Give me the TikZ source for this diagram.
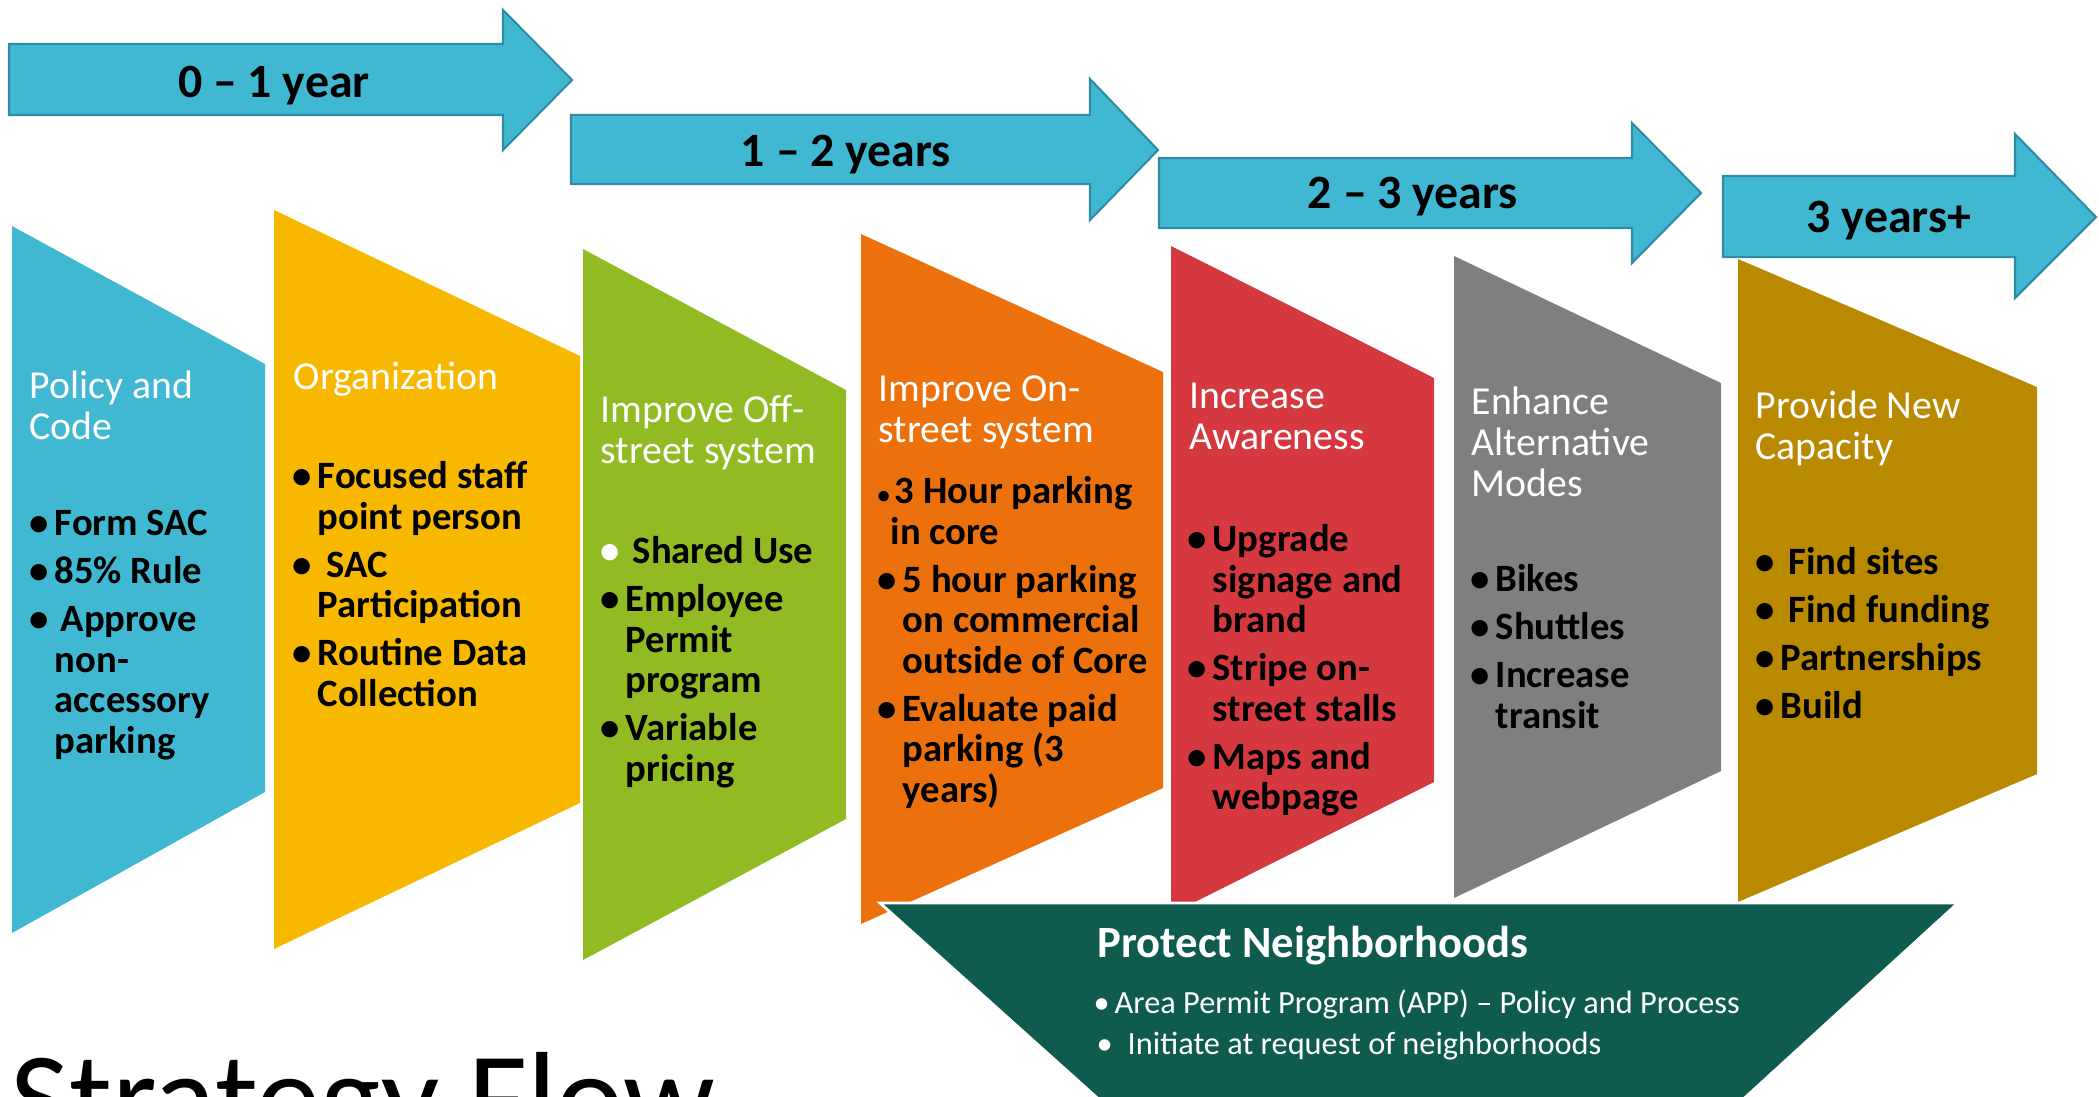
\documentclass[tikz,border=0pt]{standalone}
\usepackage{fontspec}
\setmainfont{Carlito}
\definecolor{skyblue}{HTML}{41B8D2}
\definecolor{skyline}{HTML}{2E8CA3}
\definecolor{sunyellow}{HTML}{F9B800}
\definecolor{leafgreen}{HTML}{91BB23}
\definecolor{carrot}{HTML}{EC710C}
\definecolor{brick}{HTML}{D6383F}
\definecolor{stone}{HTML}{7F7F7F}
\definecolor{mustard}{HTML}{B98A00}
\definecolor{pine}{HTML}{0F5B50}
\newcommand{\bul}{\makebox[0.25cm][l]{\textbullet}}
\newcommand{\ind}{\hspace*{0.25cm}}

\begin{document}
\begin{tikzpicture}[x=0.01cm,y=-0.01cm,
  yeararrow/.style={fill=skyblue,draw=skyline,line width=0.6pt},
  yearlabel/.style={font=\bfseries\fontsize{13.6}{16}\selectfont,anchor=base,inner sep=0pt},
  firstbase/.style={anchor=north west,inner sep=0pt,align=left,execute at begin node=\strut,yshift=0.7*#1},
  head/.style={text=white,font=\fontsize{11.3}{11.6}\selectfont,firstbase=11.6pt},
  items/.style={font=\bfseries\fontsize{11}{11.55}\selectfont,firstbase=11.55pt}]
   \path[use as bounding box,clip] (0,0) rectangle (2099,1096);
   \draw[yeararrow] (9,44) -- (503,44) -- (503,10) -- (572,80) -- (503,150) -- (503,115) -- (9,115) -- cycle;
   \draw[yeararrow] (571,115) -- (1090,115) -- (1090,79) -- (1158,150) -- (1090,220) -- (1090,184) -- (571,184) -- cycle;
   \draw[yeararrow] (1159,158) -- (1632,158) -- (1632,123) -- (1701,193) -- (1632,263) -- (1632,228) -- (1159,228) -- cycle;
   \draw[yeararrow] (1723,176) -- (2015,176) -- (2015,134) -- (2096,217) -- (2015,298) -- (2015,257) -- (1723,257) -- cycle;
   \node[yearlabel] (yr01) at (274,97) {0 -- 1 year};
   \node[yearlabel] (yr12) at (846,166) {1 -- 2 years};
   \node[yearlabel] (yr23) at (1413,208) {2 -- 3 years};
   \node[yearlabel] (yr3p) at (1889,232) {3 years+};
  %
   \fill[skyblue] (12,226) -- (265,364) -- (265,792) -- (12,933) -- cycle;
   \fill[sunyellow] (274,210) -- (580,356) -- (580,803) -- (274,949) -- cycle;
   \fill[leafgreen] (583,249) -- (846,390) -- (846,819) -- (583,960) -- cycle;
   \fill[carrot] (861,234) -- (1163,372) -- (1163,788) -- (861,924) -- cycle;
   \fill[brick] (1171,246) -- (1434,378) -- (1434,782) -- (1171,914) -- cycle;
   \fill[stone] (1454,256) -- (1721,383) -- (1721,771) -- (1454,898) -- cycle;
   \fill[mustard] (1738,259) -- (2037,387) -- (2037,774) -- (1738,902) -- cycle;
   \draw[fill=pine,draw=white,line width=0.8pt] (880,903) -- (1958,903) -- (1633,1200) -- (1211,1200) -- cycle;
  %
   \node[head] (hPolicy) at (29,399) {Policy and\\Code};
   \node[head] (hOrg) at (293,389) {Organization};
   \node[head] (hOff) at (600,423) {Improve Off-\\street system};
   \node[head] (hOn) at (878,404) {Improve On-\\street system};
   \node[head] (hAware) at (1189,411) {Increase\\Awareness};
   \node[head] (hModes) at (1471,415) {Enhance\\Alternative\\Modes};
   \node[head] (hCap) at (1755,419) {Provide New\\Capacity};
  %
   \node[items] (lPolicy) at (29,538) {\bul Form SAC\\[2.1pt]
      \bul 85\% Rule\\[2.1pt]
      \bul\hspace{0.06cm}Approve\\ \ind non-\\ \ind accessory\\ \ind parking};
   \node[items] (lOrg) at (292,489) {\bul Focused staff\\ \ind point person\\[2.1pt]
      \bul\hspace{0.09cm}SAC\\ \ind Participation\\[2.1pt]
      \bul Routine Data\\ \ind Collection};
   \node[items] (lOff) at (600,564) {\textcolor{white}{\bul}\hspace{0.07cm}Shared Use\\[2.1pt]
      \bul Employee\\ \ind Permit\\ \ind program\\[2.1pt]
      \bul Variable\\ \ind pricing};
   \node[items] (lOn) at (877,504) {\makebox[0.17cm][l]{\fontsize{7}{7}\selectfont\textbullet}3 Hour parking\\ \hspace*{0.13cm}in core\\[2.1pt]
      \bul 5 hour parking\\ \ind on commercial\\ \ind outside of Core\\[2.1pt]
      \bul Evaluate paid\\ \ind parking (3\\ \ind years)};
   \node[items] (lAware) at (1187,552) {\bul Upgrade\\ \ind signage and\\ \ind brand\\[2.1pt]
      \bul Stripe on-\\ \ind street stalls\\[2.1pt]
      \bul Maps and\\ \ind webpage};
   \node[items] (lModes) at (1470,592) {\bul Bikes\\[2.1pt]
      \bul Shuttles\\[2.1pt]
      \bul Increase\\ \ind transit};
   \node[items] (lCap) at (1755,575) {\bul\hspace{0.08cm}Find sites\\[2.1pt]
      \bul\hspace{0.08cm}Find funding\\[2.1pt]
      \bul Partnerships\\[2.1pt]
      \bul Build};
  %
   \node[text=white,font=\bfseries\fontsize{12.7}{14}\selectfont,anchor=base west,inner sep=0pt] (hProtect) at (1097,957) {Protect Neighborhoods};
   \node[text=white,font=\fontsize{9.2}{11.8}\selectfont,firstbase=11.8pt] (lProtect) at (1093,1018)
      {\makebox[0.21cm][l]{\textbullet}Area Permit Program (APP) -- Policy and Process\\
       \hspace*{0.03cm}\makebox[0.31cm][l]{\textbullet}Initiate at request of neighborhoods};
   \node[font=\fontsize{36.5}{40}\selectfont,anchor=base west,inner sep=0pt] (title) at (10,1141) {Strategy Flow};
   \end{tikzpicture}
\end{document}
